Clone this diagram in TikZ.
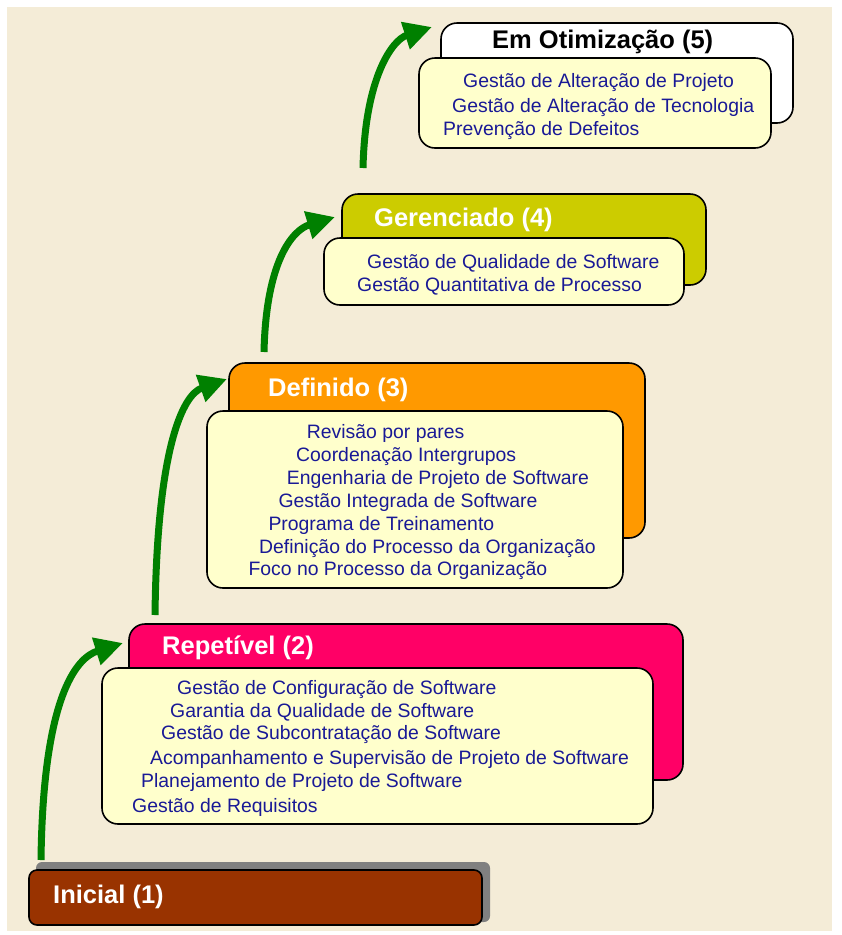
\documentclass[tikz,border=0pt]{standalone}
\usepackage{fontspec}
\setmainfont{Liberation Sans}
\usetikzlibrary{arrows.meta}
\definecolor{bgbeige}{RGB}{244,236,215}
\definecolor{frontfill}{RGB}{255,255,204}
\definecolor{olivey}{RGB}{204,204,0}
\definecolor{orangec}{RGB}{255,153,0}
\definecolor{pinkc}{RGB}{255,0,102}
\definecolor{brownc}{RGB}{153,51,0}
\definecolor{shadowc}{RGB}{128,128,128}
\definecolor{navyt}{RGB}{25,25,150}
\definecolor{greenarr}{RGB}{0,128,0}
\tikzset{
  lvlbox/.style={draw=black, line width=1.6pt, rounded corners=16pt, inner sep=0pt, outer sep=0pt},
  frontbox/.style={lvlbox, fill=frontfill},
  title/.style={anchor=base west, inner sep=0pt, font=\bfseries\fontsize{25.5}{30}\selectfont},
  item/.style={anchor=base west, inner sep=0pt, text=navyt, font=\fontsize{19.4}{22}\selectfont},
  arr/.style={draw=greenarr, line width=7pt, -{Triangle[length=28pt,width=27pt]}}
}
\begin{document}
\begin{tikzpicture}[x=1pt,y=-1pt]
\useasboundingbox (0,0) rectangle (842,935);
\fill[white] (0,0) rectangle (842,935);
\fill[bgbeige] (7,7) rectangle (832,931);

% Level 5
\node (b5) [lvlbox, fill=white, minimum width=352pt, minimum height=100pt] at (617,73) {};
\node (f5) [frontbox, minimum width=352pt, minimum height=90pt] at (595,103) {};
\node (t5) [title, text=black] at (492,48) {Em Otimização (5)};
\node (l51) [item] at (463,87) {Gestão de Alteração de Projeto};
\node (l52) [item] at (452,112.5) {Gestão de Alteração de Tecnologia};
\node (l53) [item] at (443,135.5) {Prevenção de Defeitos};

% Level 4
\node (b4) [lvlbox, fill=olivey, minimum width=364pt, minimum height=91pt] at (524,239.5) {};
\node (f4) [frontbox, minimum width=360pt, minimum height=67pt] at (504,271.5) {};
\node (t4) [title, text=white] at (374,226) {Gerenciado (4)};
\node (l41) [item] at (367,268) {Gestão de Qualidade de Software};
\node (l42) [item] at (357,291) {Gestão Quantitativa de Processo};

% Level 3
\node (b3) [lvlbox, fill=orangec, minimum width=416pt, minimum height=175pt] at (437,450.5) {};
\node (f3) [frontbox, minimum width=416pt, minimum height=177pt] at (415,499.5) {};
\node (t3) [title, text=white] at (268,396) {Definido (3)};
\node (l31) [item] at (306.7,438) {Revisão por pares};
\node (l32) [item] at (296,461) {Coordenação Intergrupos};
\node (l33) [item] at (286.7,484) {Engenharia de Projeto de Software};
\node (l34) [item] at (278.3,507) {Gestão Integrada de Software};
\node (l35) [item] at (268.3,530) {Programa de Treinamento};
\node (l36) [item] at (259,553) {Definição do Processo da Organização};
\node (l37) [item] at (248.3,575) {Foco no Processo da Organização};

% Level 2
\node (b2) [lvlbox, fill=pinkc, minimum width=554pt, minimum height=156pt] at (406,702) {};
\node (f2) [frontbox, minimum width=551pt, minimum height=156pt] at (377.5,746) {};
\node (t2) [title, text=white] at (162,654) {Repetível (2)};
\node (l21) [item] at (177,694) {Gestão de Configuração de Software};
\node (l22) [item] at (170,717) {Garantia da Qualidade de Software};
\node (l23) [item] at (161,739) {Gestão de Subcontratação de Software};
\node (l24) [item] at (150,764) {Acompanhamento e Supervisão de Projeto de Software};
\node (l25) [item] at (141,787) {Planejamento de Projeto de Software};
\node (l26) [item] at (132,812) {Gestão de Requisitos};

% Level 1
\node (s1) [fill=shadowc, rounded corners=6pt, inner sep=0pt, minimum width=454pt, minimum height=60pt] at (263,892) {};
\node (b1) [lvlbox, fill=brownc, rounded corners=8pt, minimum width=453pt, minimum height=55pt] at (255.5,897.5) {};
\node (t1) [title, text=white] at (53,903) {Inicial (1)};

% Arrows
\coordinate (a1s) at (41,860);
\coordinate (a1e) at (123,643);
\coordinate (a2s) at (155,615);
\coordinate (a2e) at (227,379);
\coordinate (a3s) at (264,352);
\coordinate (a3e) at (335,217);
\coordinate (a4s) at (363,168);
\coordinate (a4e) at (432,27);
\draw[arr] (a1s) .. controls (43,700) and (75,658) .. (a1e);
\draw[arr] (a2s) .. controls (157,450) and (182,395) .. (a2e);
\draw[arr] (a3s) .. controls (266,262) and (292,230) .. (a3e);
\draw[arr] (a4s) .. controls (365,78) and (392,40) .. (a4e);
\end{tikzpicture}
\end{document}
